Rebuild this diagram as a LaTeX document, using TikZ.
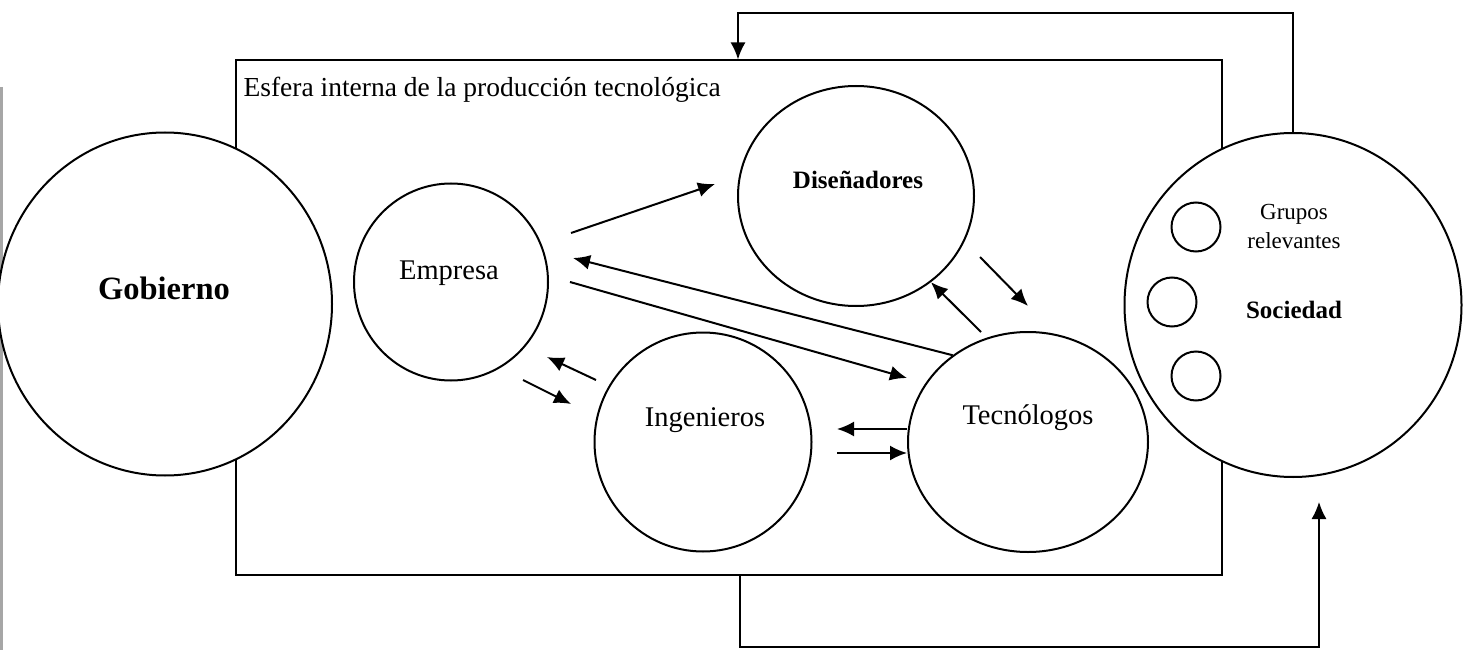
\documentclass[tikz,border=0pt]{standalone}
\usepackage{fontspec}
\setmainfont{Liberation Serif}
\usetikzlibrary{arrows.meta,shapes.geometric}
\tikzset{
  blob/.style={draw, ellipse, line width=2pt, fill=white, inner sep=0pt},
  grupo/.style={draw, circle, line width=2pt, minimum size=49pt, inner sep=0pt},
  flecha/.style={line width=2pt, -{Latex[length=17pt,width=15pt]}},
  nombre/.style={font=\fontsize{28.5}{30}\selectfont},
  fuerte/.style={font=\fontsize{#1}{#1}\selectfont\bfseries},
}
\begin{document}
\begin{tikzpicture}[x=1pt,y=-1pt]
        \useasboundingbox (0,0) rectangle (1473,650);
        % borde del escaneo
        \draw[gray!70, line width=2.5pt] (1.5,87) -- (1.5,650);
        % esfera interna
        \node[draw, line width=2pt, minimum width=986pt, minimum height=514pt, inner sep=0pt] (esfera) at (729,317.5) {};
        \node[font=\fontsize{27.5}{30}\selectfont, anchor=base west] (esftxt) at (240,97) {Esfera interna de la producción tecnológica};
        % actores
        \node[blob, minimum width=334pt, minimum height=343pt] (gob) at (165,304) {};
        \node[blob, minimum width=337pt, minimum height=344pt] (soc) at (1293,305) {};
        \node[blob, minimum width=194pt, minimum height=197pt] (emp) at (451,282) {};
        \node[blob, minimum width=236pt, minimum height=220pt] (dis) at (856,196) {};
        \node[blob, minimum width=217pt, minimum height=219pt] (ing) at (703,442) {};
        \node[blob, minimum width=240pt, minimum height=220pt] (tec) at (1028,442) {};
        \node[fuerte=32.5] (gobtxt) at (164,288) {Gobierno};
        \node[fuerte=25] (soctxt) at (1294,310) {Sociedad};
        \node[fuerte=25] (distxt) at (858,180) {Diseñadores};
        \node[nombre] (emptxt) at (449,273) {Empresa};
        \node[nombre] (ingtxt) at (705,420) {Ingenieros};
        \node[nombre] (tectxt) at (1028,418) {Tecnólogos};
        % grupos relevantes
        \node[grupo] (g1) at (1196,227) {};
        \node[grupo] (g2) at (1172,302) {};
        \node[grupo] (g3) at (1196,376) {};
        \node[font=\fontsize{23}{29}\selectfont, align=center] (grtxt) at (1294,226) {Grupos\\relevantes};
        % extremos de las flechas
        \coordinate (empA) at (571,233);
        \coordinate (disA) at (715,184);
        \coordinate (empB) at (573,258);
        \coordinate (empC) at (570,282);
        \coordinate (tecC) at (907,378);
        \coordinate (disD) at (980,257);
        \coordinate (tecD) at (1028,306);
        \coordinate (tecE) at (981,332);
        \coordinate (ingF) at (596,380);
        \coordinate (empF) at (547,357);
        \coordinate (empG) at (523,380);
        \coordinate (ingG) at (571,404);
        \coordinate (ingH) at (837,429);
        \coordinate (ingI) at (837,453);
        \draw[flecha] (empA) -- (disA);
        \draw[flecha] (tec.131) -- (empB);
        \draw[flecha] (empC) -- (tecC);
        \draw[flecha] (disD) -- (tecD);
        \draw[flecha] (tecE) -- (dis.-49);
        \draw[flecha] (ingF) -- (empF);
        \draw[flecha] (empG) -- (ingG);
        \draw[flecha] ([yshift=13pt]tec.west) -- (ingH);
        \draw[flecha] (ingI) -- ([yshift=-11pt]tec.west);
        % retroalimentacion
        \coordinate (fbtop) at (738,13);
        \coordinate (fbbot) at (740,647);
        \coordinate (fbend) at (1319,502);
        \draw[flecha] (soc.north) |- (fbtop) -- (fbtop |- esfera.north);
        \draw[flecha, line width=1.5pt] (fbbot |- esfera.south) -- (fbbot) -| (fbend);
      \end{tikzpicture}
\end{document}
